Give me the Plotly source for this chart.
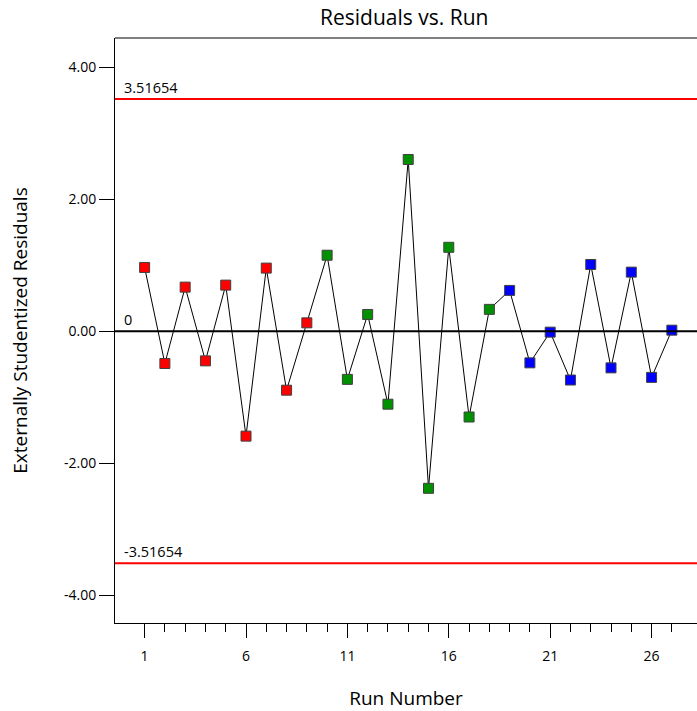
import plotly.graph_objects as go

runs = list(range(1, 28))
residuals = [0.965, -0.49, 0.667, -0.45, 0.697, -1.59, 0.955, -0.894, 0.126,
             1.15, -0.73, 0.253, -1.106, 2.60, -2.38, 1.27, -1.30, 0.33,
             0.617, -0.48, -0.015, -0.74, 1.01, -0.556, 0.894, -0.70, 0.015]
colors = ["red"] * 9 + ["#009000"] * 9 + ["#0000ff"] * 9
limit = 3.51654

fig = go.Figure()
fig.add_trace(go.Scatter(x=runs, y=residuals, mode="lines",
                         line=dict(color="black", width=1), showlegend=False,
                         hoverinfo="skip"))
fig.add_trace(go.Scatter(x=runs, y=residuals, mode="markers",
                         marker=dict(symbol="square", size=10, color=colors,
                                     line=dict(color="#404040", width=1)),
                         showlegend=False))

for yv, col, txt in [(limit, "red", "3.51654"), (0, "black", "0"), (-limit, "red", "-3.51654")]:
    fig.add_shape(type="line", xref="paper", x0=0, x1=1, y0=yv, y1=yv,
                  line=dict(color=col, width=2))
    fig.add_annotation(xref="paper", x=0.012, y=yv, text=txt, showarrow=False,
                       xanchor="left", yanchor="bottom", yshift=0,
                       font=dict(size=14.5, color="black"))

fig.update_layout(
    width=697, height=711,
    margin=dict(l=115, r=0, t=38, b=88),
    plot_bgcolor="white", paper_bgcolor="white",
    font=dict(family="Open Sans", size=14, color="black"),
    title=dict(text="Residuals vs. Run", x=0.58, xanchor="center", y=0.975,
               yanchor="middle", font=dict(size=21)),
    xaxis=dict(range=[-0.46, 28.24], tickvals=[1, 6, 11, 16, 21, 26],
               ticks="outside", ticklen=14, tickcolor="black", tickwidth=1,
               ticklabelstandoff=6,
               minor=dict(tickvals=runs, ticks="outside", ticklen=8,
                          tickcolor="black", tickwidth=1),
               showgrid=False, zeroline=False, showline=True, linecolor="black",
               linewidth=1, mirror=False,
               title=dict(text="Run Number", font=dict(size=19), standoff=28)),
    yaxis=dict(range=[-4.42, 4.44], tickvals=[-4, -2, 0, 2, 4],
               ticktext=["-4.00", "-2.00", "0.00", "2.00", "4.00"],
               ticks="outside", ticklen=15, tickcolor="black", tickwidth=1,
               showgrid=False, zeroline=False, showline=True, linecolor="black",
               linewidth=1,
               title=dict(text="Externally Studentized Residuals",
                          font=dict(size=19), standoff=31)),
)
fig.add_shape(type="line", xref="paper", yref="paper", x0=0, x1=1, y0=1, y1=1,
              line=dict(color="black", width=1))

fig.write_html("out.html")
